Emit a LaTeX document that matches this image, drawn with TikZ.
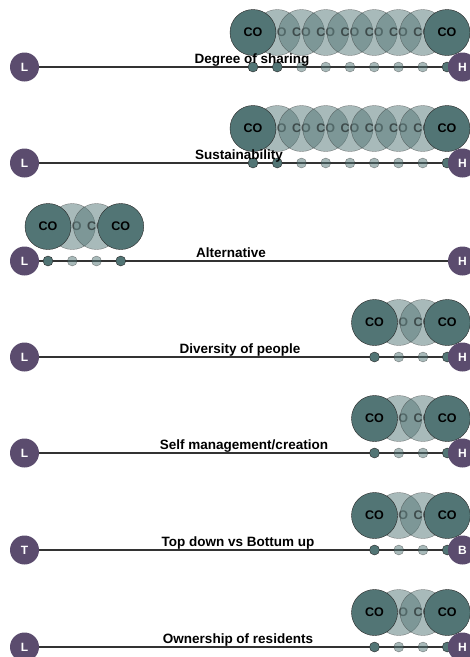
\documentclass[tikz,border=0pt]{standalone}
\usepackage{fontspec}
\setmainfont{Liberation Sans}
\usepackage{xcolor}
\usetikzlibrary{positioning, backgrounds}
\definecolor{coteal}{HTML}{527575}
\definecolor{endpurple}{HTML}{5B4C6E}
\definecolor{axisgray}{HTML}{333333}
\tikzset{
    % End point styles
    end node/.style={circle, fill=endpurple, minimum size=29pt, inner sep=0pt,
                     text=white, font=\bfseries\fontsize{12}{12}\selectfont},
    % Bubble styles
    co bubble/.style={circle, draw=black!85, fill=coteal, minimum size=46pt,
                      inner sep=0pt, font=\bfseries\fontsize{12.5}{12.5}\selectfont},
    co faded/.style={co bubble, opacity=0.5},
    % Dot styles
    co dot/.style={circle, draw=black!85, fill=coteal, minimum size=10pt, inner sep=0pt},
    dot faded/.style={co dot, opacity=0.5},
    % Line and label styles
    scale line/.style={draw=axisgray, line width=1.2pt},
    scale label/.style={anchor=base, font=\bfseries\fontsize{13.5}{13.5}\selectfont},
}

\begin{document}
\begin{tikzpicture}[x=1pt, y=-1pt]
    \useasboundingbox (0,0) rectangle (470,657);

    % Degree of sharing
    \foreach \k in {1,...,7}
        \node[co faded] (share-co\k) at ({253+24.25*\k}, 32.5) {CO};
    \node[co bubble] (share-co0) at (253, 32.5) {CO};
    \node[co bubble] (share-co8) at (447, 32.5) {CO};
    \foreach \k in {2,...,7}
        \node[dot faded] (share-d\k) at ({253+24.25*\k}, 67) {};
    \node[co dot] (share-d0) at (253, 67) {};
    \node[co dot] (share-d1) at (277.25, 67) {};
    \node[co dot] (share-d8) at (447, 67) {};
    \node[end node] (share-l) at (24.5, 67) {L};
    \node[end node] (share-h) at (462.5, 67) {H};
    \begin{scope}[on background layer]
        \draw[scale line] (share-l) -- (share-h);
    \end{scope}
    \node[scale label] (share-t) at (252, 63) {Degree of sharing};

    % Sustainability
    \foreach \k in {1,...,7}
        \node[co faded] (sust-co\k) at ({253+24.25*\k}, 128.5) {CO};
    \node[co bubble] (sust-co0) at (253, 128.5) {CO};
    \node[co bubble] (sust-co8) at (447, 128.5) {CO};
    \foreach \k in {2,...,7}
        \node[dot faded] (sust-d\k) at ({253+24.25*\k}, 163) {};
    \node[co dot] (sust-d0) at (253, 163) {};
    \node[co dot] (sust-d1) at (277.25, 163) {};
    \node[co dot] (sust-d8) at (447, 163) {};
    \node[end node] (sust-l) at (24.5, 163) {L};
    \node[end node] (sust-h) at (462.5, 163) {H};
    \begin{scope}[on background layer]
        \draw[scale line] (sust-l) -- (sust-h);
    \end{scope}
    \node[scale label] (sust-t) at (239, 159) {Sustainability};

    % Alternative
    \node[co faded] (alt-co1) at (72.25, 226.5) {CO};
    \node[co faded] (alt-co2) at (96.5, 226.5) {CO};
    \node[co bubble] (alt-co0) at (48, 226.5) {CO};
    \node[co bubble] (alt-co3) at (120.75, 226.5) {CO};
    \node[co dot] (alt-d0) at (48, 261) {};
    \node[dot faded] (alt-d1) at (72.25, 261) {};
    \node[dot faded] (alt-d2) at (96.5, 261) {};
    \node[co dot] (alt-d3) at (120.75, 261) {};
    \node[end node] (alt-l) at (24.5, 261) {L};
    \node[end node] (alt-h) at (462.5, 261) {H};
    \begin{scope}[on background layer]
        \draw[scale line] (alt-l) -- (alt-h);
    \end{scope}
    \node[scale label] (alt-t) at (231, 257) {Alternative};

    % Diversity of people
    \node[co faded] (div-co1) at (398.75, 322.5) {CO};
    \node[co faded] (div-co2) at (423, 322.5) {CO};
    \node[co bubble] (div-co0) at (374.5, 322.5) {CO};
    \node[co bubble] (div-co3) at (447.25, 322.5) {CO};
    \node[co dot] (div-d0) at (374.5, 357) {};
    \node[dot faded] (div-d1) at (398.75, 357) {};
    \node[dot faded] (div-d2) at (423, 357) {};
    \node[co dot] (div-d3) at (447.25, 357) {};
    \node[end node] (div-l) at (24.5, 357) {L};
    \node[end node] (div-h) at (462.5, 357) {H};
    \begin{scope}[on background layer]
        \draw[scale line] (div-l) -- (div-h);
    \end{scope}
    \node[scale label] (div-t) at (240, 353) {Diversity of people};

    % Self management/creation
    \node[co faded] (self-co1) at (398.75, 418.5) {CO};
    \node[co faded] (self-co2) at (423, 418.5) {CO};
    \node[co bubble] (self-co0) at (374.5, 418.5) {CO};
    \node[co bubble] (self-co3) at (447.25, 418.5) {CO};
    \node[co dot] (self-d0) at (374.5, 453) {};
    \node[dot faded] (self-d1) at (398.75, 453) {};
    \node[dot faded] (self-d2) at (423, 453) {};
    \node[co dot] (self-d3) at (447.25, 453) {};
    \node[end node] (self-l) at (24.5, 453) {L};
    \node[end node] (self-h) at (462.5, 453) {H};
    \begin{scope}[on background layer]
        \draw[scale line] (self-l) -- (self-h);
    \end{scope}
    \node[scale label] (self-t) at (244, 449) {Self management/creation};

    % Top down vs Bottum up
    \node[co faded] (top-co1) at (398.75, 515.5) {CO};
    \node[co faded] (top-co2) at (423, 515.5) {CO};
    \node[co bubble] (top-co0) at (374.5, 515.5) {CO};
    \node[co bubble] (top-co3) at (447.25, 515.5) {CO};
    \node[co dot] (top-d0) at (374.5, 550) {};
    \node[dot faded] (top-d1) at (398.75, 550) {};
    \node[dot faded] (top-d2) at (423, 550) {};
    \node[co dot] (top-d3) at (447.25, 550) {};
    \node[end node] (top-l) at (24.5, 550) {T};
    \node[end node] (top-h) at (462.5, 550) {B};
    \begin{scope}[on background layer]
        \draw[scale line] (top-l) -- (top-h);
    \end{scope}
    \node[scale label] (top-t) at (238, 546) {Top down vs Bottum up};

    % Ownership of residents
    \node[co faded] (own-co1) at (398.75, 612.5) {CO};
    \node[co faded] (own-co2) at (423, 612.5) {CO};
    \node[co bubble] (own-co0) at (374.5, 612.5) {CO};
    \node[co bubble] (own-co3) at (447.25, 612.5) {CO};
    \node[co dot] (own-d0) at (374.5, 647) {};
    \node[dot faded] (own-d1) at (398.75, 647) {};
    \node[dot faded] (own-d2) at (423, 647) {};
    \node[co dot] (own-d3) at (447.25, 647) {};
    \node[end node] (own-l) at (24.5, 647) {L};
    \node[end node] (own-h) at (462.5, 647) {H};
    \begin{scope}[on background layer]
        \draw[scale line] (own-l) -- (own-h);
    \end{scope}
    \node[scale label] (own-t) at (238, 643) {Ownership of residents};
\end{tikzpicture}
\end{document}
